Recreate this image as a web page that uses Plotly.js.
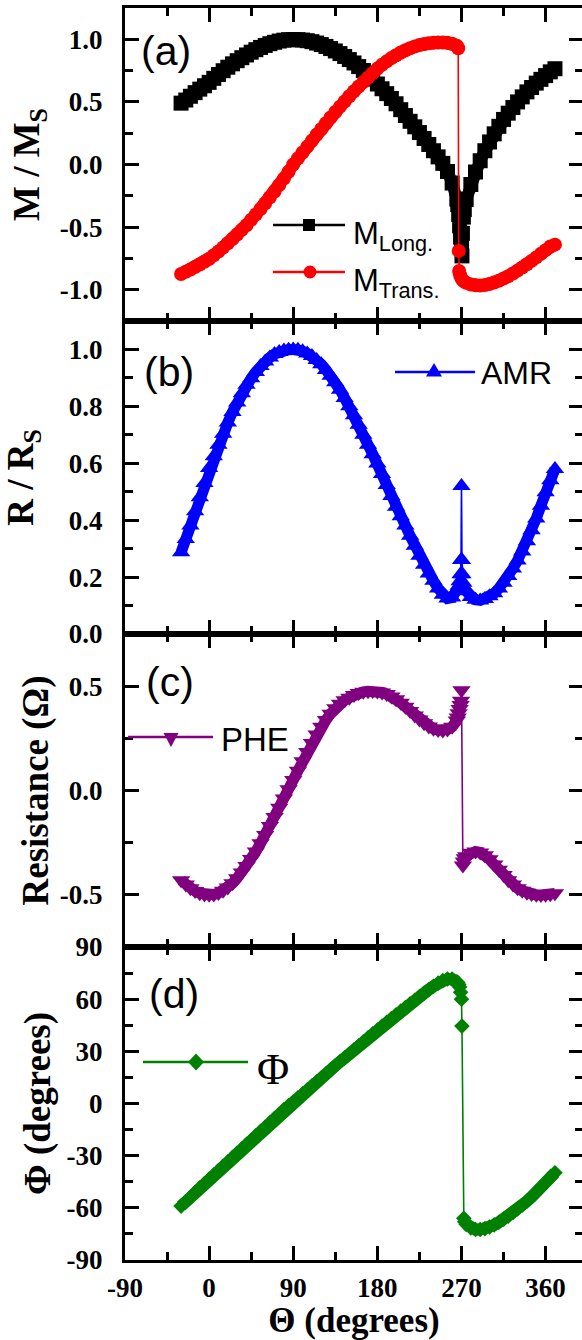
<!DOCTYPE html>
<html>
<head>
<meta charset="utf-8">
<script src="https://cdn.plot.ly/plotly-3.0.1.min.js"></script>
<style>
html, body { margin: 0; padding: 0; overflow: hidden; background: #fff; }
#chart { width: 590px; height: 1340px; }
</style>
</head>
<body>
<div id="chart"></div>
<script>
// ---------- DATA ----------
var theta = [-30,-25,-20,-15,-10,-5,0,5,10,15,20,25,30,35,40,45,50,55,60,65,70,75,80,85,90,95,100,105,110,115,120,125,130,135,140,145,150,155,160,165,170,175,180,185,190,195,200,205,210,215,220,225,230,235,240,245,250,255,260,265];
var thetaPost = [275,280,285,290,295,300,305,310,315,320,325,330,335,340,345,350,355,360,365,370];

// (a) longitudinal magnetisation
var mLong = [0.49,0.515,0.545,0.574,0.602,0.629,0.656,0.688,0.719,0.749,0.777,0.804,0.829,0.853,0.875,0.897,0.917,0.935,0.951,0.965,0.976,0.986,0.993,0.997,0.998,0.997,0.994,0.989,0.981,0.970,0.958,0.943,0.926,0.907,0.886,0.863,0.838,0.811,0.782,0.751,0.718,0.682,0.643,0.605,0.566,0.527,0.485,0.438,0.391,0.345,0.301,0.255,0.208,0.160,0.110,0.061,0.009,-0.056,-0.148,-0.276];
var mLongJumpTheta = [266,267,268,269,270,270.5,271,272,273];
var mLongJump = [-0.32,-0.40,-0.49,-0.58,-0.64,-0.73,-0.55,-0.42,-0.36];
var mLongPost = [-0.28,-0.16,-0.06,0.03,0.11,0.18,0.245,0.305,0.36,0.41,0.455,0.50,0.54,0.58,0.615,0.65,0.68,0.71,0.74,0.765];

// (a) transverse magnetisation
var mTrans = [-0.875,-0.857,-0.839,-0.819,-0.799,-0.777,-0.755,-0.725,-0.695,-0.663,-0.629,-0.595,-0.559,-0.522,-0.485,-0.441,-0.399,-0.355,-0.309,-0.262,-0.216,-0.165,-0.113,-0.058,0.0,0.049,0.096,0.143,0.191,0.239,0.284,0.329,0.375,0.419,0.462,0.503,0.545,0.585,0.623,0.659,0.695,0.731,0.766,0.797,0.824,0.850,0.873,0.895,0.913,0.929,0.943,0.954,0.963,0.969,0.973,0.975,0.975,0.972,0.965,0.948];
var mTransJumpTheta = [266.5,267,267.5,268.5,270,272];
var mTransJump = [0.928,-0.69,-0.85,-0.885,-0.91,-0.93];
var mTransPost = [-0.945,-0.958,-0.965,-0.966,-0.962,-0.954,-0.942,-0.928,-0.911,-0.892,-0.871,-0.848,-0.823,-0.797,-0.770,-0.742,-0.713,-0.684,-0.655,-0.64];

// (b) AMR  R / Rs
var amr = [0.287,0.334,0.381,0.431,0.481,0.531,0.583,0.625,0.665,0.704,0.743,0.780,0.814,0.846,0.876,0.899,0.921,0.942,0.958,0.972,0.984,0.991,0.996,0.999,1.0,0.999,0.994,0.986,0.977,0.963,0.948,0.928,0.908,0.885,0.858,0.829,0.800,0.769,0.735,0.700,0.665,0.632,0.599,0.562,0.524,0.485,0.447,0.414,0.381,0.345,0.310,0.275,0.243,0.213,0.187,0.160,0.138,0.125,0.128,0.154];
var amrJumpTheta = [266,267,268,269,269.5,270,270.5,271,272,273];
var amrJump = [0.16,0.17,0.185,0.21,0.26,0.52,0.26,0.21,0.18,0.165];
var amrPost = [0.15,0.13,0.12,0.118,0.123,0.133,0.143,0.160,0.180,0.204,0.230,0.258,0.290,0.326,0.365,0.406,0.451,0.498,0.54,0.58];

// (c) PHE  Resistance (Ohm)
var phe = [-0.43,-0.45,-0.468,-0.482,-0.492,-0.498,-0.50,-0.498,-0.491,-0.48,-0.465,-0.445,-0.42,-0.393,-0.362,-0.328,-0.292,-0.253,-0.213,-0.17,-0.127,-0.083,-0.038,0.006,0.05,0.095,0.14,0.185,0.228,0.268,0.305,0.338,0.368,0.394,0.416,0.432,0.445,0.458,0.467,0.473,0.476,0.477,0.475,0.47,0.462,0.451,0.437,0.42,0.401,0.381,0.36,0.34,0.322,0.307,0.296,0.29,0.288,0.292,0.305,0.335];
var pheJumpTheta = [266,267,268,269,269.5,270,271.5,272.5,273.5];
var pheJump = [0.35,0.37,0.39,0.41,0.43,0.48,-0.36,-0.34,-0.325];
var phePost = [-0.315,-0.298,-0.292,-0.297,-0.31,-0.33,-0.355,-0.38,-0.405,-0.43,-0.45,-0.468,-0.481,-0.49,-0.496,-0.5,-0.501,-0.5,-0.497,-0.493];

// (d) magnetisation angle Phi (degrees)
var phi = [-59,-56.5,-54,-51,-48.5,-46,-43.5,-41,-38.5,-36,-33.5,-31,-28.5,-26,-23.5,-21,-18.5,-16,-13.5,-11,-8.5,-6,-3.5,-1.2,1,3.3,5.6,7.9,10.2,12.5,14.8,17.1,19.4,21.7,24,26.3,28.6,30.9,33.2,35.5,37.8,40.1,42.3,44.5,46.7,48.9,51,53.1,55.2,57.3,59.4,61.5,63.5,65.5,67.4,69.2,70.7,71.6,71.5,70];
var phiJumpTheta = [266,267,268,269,270,270.5,272.5,273.5];
var phiJump = [69.5,68.5,67,64,60,44.5,-66,-68];
var phiPost = [-69.5,-71.5,-72.5,-72.5,-72,-71,-69.8,-68.3,-66.6,-64.8,-62.8,-60.7,-58.5,-56.2,-53.7,-51.1,-48.4,-45.6,-42.7,-39.8];

// tick labels
var thetaTickVals = [-90,0,90,180,270,360];
var thetaTickText = ['-90','0','90','180','270','360'];
var mTickVals = [-1,-0.5,0,0.5,1];
var mTickText = ['-1.0','-0.5','0.0','0.5','1.0'];
var rTickVals = [0,0.2,0.4,0.6,0.8,1.0];
var rTickText = ['0.0','0.2','0.4','0.6','0.8','1.0'];
var pheTickVals = [-0.5,0,0.5];
var pheTickText = ['-0.5','0.0','0.5'];
var phiTickVals = [-90,-60,-30,0,30,60,90];
var phiTickText = ['-90','-60','-30','0','30','60','90'];

// ---------- FIGURE ----------
var W = 590, H = 1340, ML = 125, MR = 7, MT = 8, MB = 80;
var PW = W - ML - MR, PH = H - MT - MB;
function fx(px) { return (px - ML) / PW; }
function fy(py) { return (H - MB - py) / PH; }

var serifBold = {family: 'Liberation Serif, Times New Roman, serif', size: 27, color: '#000', weight: 'bold'};
var titleFont = {family: 'Liberation Serif, Times New Roman, serif', size: 37, color: '#000', weight: 'bold'};

// a thick band under the dense markers (the measured curve is sampled very densely)
function band(xa, xp, ya, yp, color, width, xax, yax) {
  return {
    type: 'scatter', mode: 'lines', hoverinfo: 'skip', showlegend: false,
    x: xa.concat([null], xp), y: ya.concat([null], yp), connectgaps: false,
    xaxis: xax, yaxis: yax,
    line: {color: color, width: width}
  };
}
function series(xa, xj, xp, ya, yj, yp, color, symbol, size, xax, yax, name) {
  return {
    type: 'scatter', mode: 'lines+markers', name: name,
    x: xa.concat(xj, xp), y: ya.concat(yj, yp),
    xaxis: xax, yaxis: yax, showlegend: false,
    line: {color: color, width: 1.6},
    marker: {color: color, symbol: symbol, size: size, line: {width: 0}}
  };
}

var traces = [
  band(theta, thetaPost, mLong, mLongPost, '#000000', 12, 'x', 'y'),
  series(theta, mLongJumpTheta, thetaPost, mLong, mLongJump, mLongPost, '#000000', 'square', 15, 'x', 'y', 'M Long.'),
  band(theta, thetaPost, mTrans, mTransPost, '#FF0000', 12, 'x', 'y'),
  series(theta, mTransJumpTheta, thetaPost, mTrans, mTransJump, mTransPost, '#FF0000', 'circle', 14, 'x', 'y', 'M Trans.'),
  band(theta, thetaPost, amr, amrPost, '#0000FF', 11, 'x2', 'y2'),
  series(theta, amrJumpTheta, thetaPost, amr, amrJump, amrPost, '#0000FF', 'triangle-up', 16, 'x2', 'y2', 'AMR'),
  band(theta, thetaPost, phe, phePost, '#800080', 11, 'x3', 'y3'),
  series(theta, pheJumpTheta, thetaPost, phe, pheJump, phePost, '#800080', 'triangle-down', 16, 'x3', 'y3', 'PHE'),
  band(theta, thetaPost, phi, phiPost, '#008000', 12, 'x4', 'y4'),
  series(theta, phiJumpTheta, thetaPost, phi, phiJump, phiPost, '#008000', 'diamond', 12, 'x4', 'y4', 'Φ')
];

function xAxis(anchor, showLabels) {
  var ax = {
    anchor: anchor, range: [-90, 400], showgrid: false, zeroline: false,
    showline: true, linecolor: '#000', linewidth: 3, mirror: 'allticks',
    ticks: 'inside', ticklen: 14, tickwidth: 3, tickcolor: '#000',
    tickmode: 'array', tickvals: thetaTickVals, ticktext: thetaTickText,
    minor: {tickmode: 'linear', tick0: 0, dtick: 45, ticks: 'inside', ticklen: 8, tickwidth: 3, tickcolor: '#000', showgrid: false},
    showticklabels: showLabels, tickfont: serifBold, ticklabelstandoff: 2
  };
  if (anchor !== 'y4') ax.matches = 'x4';
  if (showLabels) ax.title = {text: 'Θ (degrees)', font: {family: titleFont.family, size: 35, color: '#000', weight: 'bold'}, standoff: 14};
  return ax;
}
function yAxis(domain, range, vals, text, minorDtick, title, standoff) {
  return {
    domain: domain, range: range, showgrid: false, zeroline: false,
    showline: true, linecolor: '#000', linewidth: 3, mirror: 'allticks',
    ticks: 'inside', ticklen: 14, tickwidth: 3, tickcolor: '#000',
    tickmode: 'array', tickvals: vals, ticktext: text,
    minor: {tickmode: 'linear', tick0: 0, dtick: minorDtick, ticks: 'inside', ticklen: 8, tickwidth: 3, tickcolor: '#000', showgrid: false},
    tickfont: serifBold, ticklabelstandoff: 14,
    title: {text: title, font: titleFont, standoff: standoff}
  };
}

var sansFont = function(s) { return {family: 'Liberation Sans, Arial, sans-serif', size: s, color: '#000'}; };

var annotations = [
  {text: '(a)', x: fx(140), y: fy(51), xanchor: 'left', yanchor: 'middle', font: sansFont(41)},
  {text: '(b)', x: fx(143), y: fy(372), xanchor: 'left', yanchor: 'middle', font: sansFont(41)},
  {text: '(c)', x: fx(145), y: fy(682), xanchor: 'left', yanchor: 'middle', font: sansFont(41)},
  {text: '(d)', x: fx(148), y: fy(994), xanchor: 'left', yanchor: 'middle', font: sansFont(41)},
  {text: 'M<sub>Long.</sub>', x: fx(352), y: fy(236), xanchor: 'left', yanchor: 'middle', font: sansFont(31)},
  {text: 'M<sub>Trans.</sub>', x: fx(352), y: fy(283), xanchor: 'left', yanchor: 'middle', font: sansFont(31)},
  {text: 'AMR', x: fx(480), y: fy(373), xanchor: 'left', yanchor: 'middle', font: sansFont(32)},
  {text: 'PHE', x: fx(220), y: fy(739), xanchor: 'left', yanchor: 'middle', font: sansFont(33)},
  {text: 'Φ', x: fx(256), y: fy(1069), xanchor: 'left', yanchor: 'middle', font: {family: 'Liberation Serif, Times New Roman, serif', size: 44, color: '#000'}}
];
annotations.forEach(function(a){ a.xref = 'paper'; a.yref = 'paper'; a.showarrow = false; a.borderpad = 0; });

function legLine(x0, x1, y, color) {
  return {type: 'line', xref: 'paper', yref: 'paper', x0: fx(x0), x1: fx(x1), y0: fy(y), y1: fy(y), line: {color: color, width: 2.5}};
}
function legMark(type, cx, cy, color, a, path) {
  var s = {type: type, xref: 'paper', yref: 'paper', xsizemode: 'pixel', ysizemode: 'pixel',
           xanchor: fx(cx), yanchor: fy(cy), fillcolor: color, line: {width: 0}};
  if (path) { s.path = path; } else { s.x0 = -a; s.x1 = a; s.y0 = -a; s.y1 = a; }
  return s;
}
var shapes = [
  legLine(273, 345, 225, '#000000'), legMark('rect', 309, 225, '#000000', 6),
  legLine(273, 345, 272, '#FF0000'), legMark('circle', 310, 272, '#FF0000', 6.5),
  legLine(395, 475, 372, '#0000FF'), legMark('path', 434, 372, '#0000FF', 0, 'M-8,-4.5 L8,-4.5 L0,9 Z'),
  legLine(128, 213, 737, '#800080'), legMark('path', 171, 737, '#800080', 0, 'M-7.5,4 L7.5,4 L0,-10 Z'),
  legLine(143, 248, 1062, '#008000'), legMark('path', 196, 1062, '#008000', 0, 'M0,8.5 L8,0 L0,-8.5 L-8,0 Z')
];

var layout = {
  width: W, height: H,
  margin: {l: ML, r: MR, t: MT, b: MB, pad: 0},
  paper_bgcolor: '#fff', plot_bgcolor: '#fff',
  showlegend: false,
  xaxis: xAxis('y', false),
  xaxis2: xAxis('y2', false),
  xaxis3: xAxis('y3', false),
  xaxis4: xAxis('y4', true),
  yaxis: yAxis([0.75, 1], [-1.25, 1.25], mTickVals, mTickText, 0.25, 'M / M<sub>S</sub>', 9),
  yaxis2: yAxis([0.5, 0.75], [0, 1.1], rTickVals, rTickText, 0.1, 'R / R<sub>S</sub>', 26),
  yaxis3: yAxis([0.25, 0.5], [-0.75, 0.75], pheTickVals, pheTickText, 0.25, 'Resistance (Ω)', 0),
  yaxis4: yAxis([0, 0.25], [-90, 90], phiTickVals, phiTickText, 15, 'Φ (degrees)', 5),
  annotations: annotations,
  shapes: shapes
};

Plotly.newPlot('chart', traces, layout, {displayModeBar: false, staticPlot: true});
</script>
</body>
</html>
